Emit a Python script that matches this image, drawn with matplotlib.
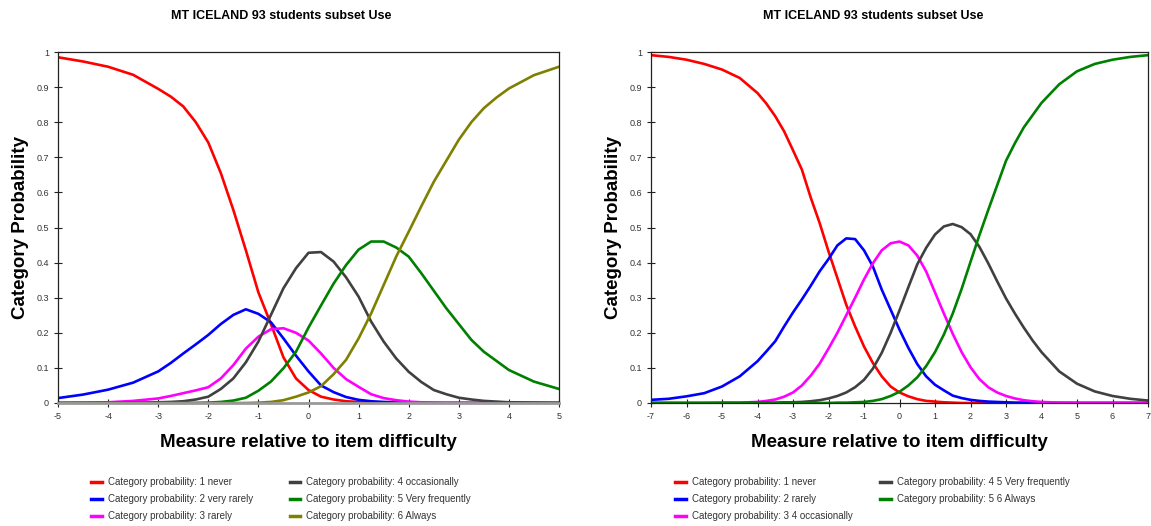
import matplotlib
matplotlib.use("Agg")
import matplotlib.pyplot as plt

plt.rcParams['font.family'] = ['Liberation Sans', 'DejaVu Sans']
plt.rcParams['axes.unicode_minus'] = False

title = "MT ICELAND 93 students subset Use"
xlab = "Measure relative to item difficulty"
ylab = "Category Probability"

# ---- left chart: 6 categories ----
x_left = [-5, -4.5, -4, -3.5, -3, -2.75, -2.5, -2.25, -2, -1.75, -1.5, -1.25, -1, -0.75, -0.5, -0.25,
          0, 0.25, 0.5, 0.75, 1, 1.25, 1.5, 1.75, 2, 2.25, 2.5, 2.75, 3, 3.25, 3.5, 3.75, 4, 4.5, 5]
never_l = [.985, .973, .958, .935, .895, .873, .845, .80, .742, .655, .55, .435, .315, .225, .13, .07,
           .037, .018, .01, .005, .003, .002, .001, 0, 0, 0, 0, 0, 0, 0, 0, 0, 0, 0, 0]
vrarely_l = [.014, .024, .038, .058, .09, .114, .141, .167, .194, .225, .251, .267, .254, .23, .184, .135,
             .09, .05, .031, .017, .009, .005, .003, .002, .001, 0, 0, 0, 0, 0, 0, 0, 0, 0, 0]
rarely_l = [0, .001, .002, .006, .013, .02, .028, .036, .045, .07, .108, .155, .189, .21, .213, .2,
            .178, .141, .1, .068, .046, .025, .014, .008, .004, .002, .001, 0, 0, 0, 0, 0, 0, 0, 0]
occas_l = [0, 0, 0, .001, .002, .003, .005, .01, .018, .04, .07, .116, .175, .251, .327, .384,
           .428, .43, .403, .358, .303, .232, .175, .127, .089, .06, .037, .025, .015, .01, .006, .004, .002, .001, 0]
vfreq_l = [0, 0, 0, 0, 0, 0, 0, 0, .001, .003, .007, .015, .035, .061, .099, .146,
           .215, .278, .34, .393, .437, .46, .46, .443, .417, .37, .32, .27, .225, .18, .146, .12, .094, .061, .04]
always_l = [0, 0, 0, 0, 0, 0, 0, 0, 0, 0, 0, 0, .001, .003, .008, .018,
            .03, .048, .082, .123, .184, .255, .336, .417, .488, .56, .63, .69, .75, .80, .84, .87, .896, .934, .958]

labels_left = ["Category probability: 1 never", "Category probability: 2 very rarely",
               "Category probability: 3 rarely", "Category probability: 4 occasionally",
               "Category probability: 5 Very frequently", "Category probability: 6 Always"]

# ---- right chart: 5 categories ----
x_right = [-7, -6.5, -6, -5.5, -5, -4.5, -4, -3.75, -3.5, -3.25, -3, -2.75, -2.5, -2.25, -2,
           -1.75, -1.5, -1.25, -1, -0.75, -0.5, -0.25, 0, 0.25, 0.5, 0.75, 1, 1.25, 1.5,
           1.75, 2, 2.25, 2.5, 2.75, 3, 3.25, 3.5, 3.75, 4, 4.5, 5, 5.5, 6, 6.5, 7]
never_r = [.991, .986, .978, .966, .95, .926, .883, .853, .817, .774, .72, .665, .585, .513, .432,
           .356, .28, .218, .161, .114, .076, .047, .03, .019, .011, .006, .004, .002, .001,
           0, 0, 0, 0, 0, 0, 0, 0, 0, 0, 0, 0, 0, 0, 0, 0]
rarely_r = [.009, .012, .019, .028, .047, .076, .119, .147, .176, .218, .258, .295, .334, .375, .41,
            .449, .469, .467, .435, .389, .323, .266, .209, .157, .111, .076, .052, .036, .021,
            .014, .009, .006, .004, .003, .002, .001, .001, 0, 0, 0, 0, 0, 0, 0, 0]
occas_r = [0, 0, 0, 0, .001, .001, .003, .006, .01, .018, .03, .05, .078, .112, .155,
           .2, .25, .3, .352, .398, .435, .455, .46, .449, .42, .375, .315, .255, .197,
           .145, .102, .068, .045, .03, .02, .013, .008, .005, .003, .001, 0, 0, 0, 0, 0]
vfreq_r = [0, 0, 0, 0, 0, 0, .001, .001, .001, .002, .002, .003, .005, .008, .013,
           .02, .03, .045, .066, .098, .143, .2, .264, .33, .395, .442, .48, .503, .51,
           .501, .481, .445, .398, .347, .298, .255, .215, .178, .145, .09, .055, .033, .02, .012, .007]
always_r = [0, 0, 0, 0, 0, 0, 0, 0, 0, 0, 0, 0, 0, 0, 0,
            .001, .001, .002, .003, .006, .011, .02, .032, .05, .073, .105, .145, .195, .255,
            .325, .402, .478, .55, .62, .69, .74, .785, .82, .855, .908, .945, .966, .978, .986, .991]

labels_right = ["Category probability: 1 never", "Category probability: 2 rarely",
                "Category probability: 3 4 occasionally", "Category probability: 4 5 Very frequently",
                "Category probability: 5 6 Always"]

colors6 = ['#ff0000', '#0000ff', '#ff00ff', '#404040', '#008000', '#808000']

fig = plt.figure(figsize=(11.51, 5.26), dpi=100)
ax1 = fig.add_axes([58 / 1151, 123 / 526, 501 / 1151, 351 / 526])
ax2 = fig.add_axes([651 / 1151, 123 / 526, 497 / 1151, 351 / 526])

series_l = [never_l, vrarely_l, rarely_l, occas_l, vfreq_l, always_l]
series_r = [never_r, rarely_r, occas_r, vfreq_r, always_r]

lines_l = []
for ys, c, lab in zip(series_l, colors6, labels_left):
    ln, = ax1.plot(x_left, ys, color=c, lw=1.9, label=lab, solid_joinstyle='round')
    lines_l.append(ln)
lines_r = []
for ys, c, lab in zip(series_r, colors6[:5], labels_right):
    ln, = ax2.plot(x_right, ys, color=c, lw=1.9, label=lab, solid_joinstyle='round')
    lines_r.append(ln)

for ax, lo, hi in [(ax1, -5, 5), (ax2, -7, 7)]:
    ax.set_xlim(lo, hi)
    ax.set_ylim(0, 1)
    ax.set_xticks(range(lo, hi + 1))
    ax.set_yticks([i / 10 for i in range(11)])
    ax.set_yticklabels(['0'] + ['0.%d' % i for i in range(1, 10)] + ['1'])
    ax.tick_params(direction='inout', length=6, width=0.8, labelsize=6.5,
                   labelcolor='#333333', color='#222222')
    ax.set_xlabel(xlab, fontsize=13.5, fontweight='bold', labelpad=9)
    ax.set_ylabel(ylab, fontsize=13.5, fontweight='bold', labelpad=5)
    for s in ax.spines.values():
        s.set_linewidth(0.9)
        s.set_color('#222222')

ax1.spines['bottom'].set_color('#999999')
ax1.spines['bottom'].set_linewidth(2)

fig.text(281 / 1151, 1 - 16 / 526, title, ha='center', va='center', fontsize=9, fontweight='bold')
fig.text(873 / 1151, 1 - 16 / 526, title, ha='center', va='center', fontsize=9, fontweight='bold')

leg_kw = dict(loc='upper left', ncol=2, frameon=False, fontsize=7, handlelength=1.1,
              handletextpad=0.6, labelspacing=0.74, borderaxespad=0, borderpad=0)
leg1 = fig.legend(handles=lines_l, bbox_to_anchor=(91 / 1151, 1 - 477 / 526),
                  columnspacing=3.8, **leg_kw)
leg2 = fig.legend(handles=lines_r, bbox_to_anchor=(675 / 1151, 1 - 477 / 526),
                  columnspacing=2.9, **leg_kw)
for leg in (leg1, leg2):
    for t in leg.get_texts():
        t.set_color('#333333')
    for h in leg.legend_handles:
        h.set_linewidth(2.5)

fig.savefig("out.png", dpi=100)
